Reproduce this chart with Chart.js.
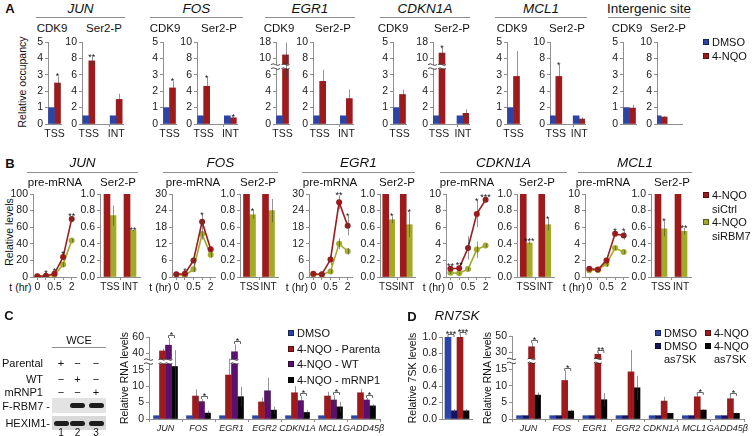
<!DOCTYPE html>
<html>
<head>
<meta charset="utf-8">
<title>RBM7 / 7SK figure</title>
<script src="https://cdn.jsdelivr.net/npm/chart.js"></script>
<style>
  html, body { margin: 0; padding: 0; background: #fff; }
  #fig { position: relative; width: 754px; height: 436px; overflow: hidden;
         font-family: "Liberation Sans", Arial, sans-serif; color: #111; }
  #fig canvas { position: absolute; }
  .t { position: absolute; white-space: nowrap; line-height: 1; }
  .ln { position: absolute; height: 1px; background: #8e8e8e; }
  .sq { position: absolute; width: 6px; height: 6px; box-sizing: border-box; border: 1px solid rgba(0,0,0,0.45); }
</style>
</head>
<body>
<div id="fig"></div>
<script>
// ---- A: ChIP, relative occupancy (DMSO vs 4-NQO) ----
const aGenes = ['JUN', 'FOS', 'EGR1', 'CDKN1A', 'MCL1', 'Intergenic site'];
const aSites = ['TSS', '', 'INT'];
const aCdk9Dmso = [1, 1, 1, 1, 1, 1];
const aCdk9Nqo = [2.5, 2.2, 11.7, 1.8, 2.9, 0.97];
const aCdk9Err = [0.4, 0.4, 6, 0.3, 1.55, 0.2];
const aCdk9Sig = ['*', '*', '', '', '', ''];
const aSer2Dmso = [[1, null, 1], [1, null, 1], [1, null, 1], [1, null, 1], [1, null, 1], [1, null, null]];
const aSer2Nqo = [[7.7, null, 3.0], [4.6, null, 0.75], [5.2, null, 3.1], [12.6, null, 1.3], [5.8, null, 0.6], [0.85, null, null]];
const aSer2Err = [[0.5, 0, 0.7], [1.0, 0, 0.1], [1.4, 0, 1.1], [2.5, 0, 0.5], [1.4, 0, 0.2], [0.1, 0, 0]];
const aSer2Sig = [['**', '', ''], ['*', '', '*'], ['', '', ''], ['*', '', ''], ['*', '', ''], ['', '', '']];
const aBreakTicks = ['0', '2', '4', '6', '10', '18'];

// ---- B: pre-mRNA time course and Ser2-P (siCtrl vs siRBM7) ----
const bGenes = ['JUN', 'FOS', 'EGR1', 'CDKN1A', 'MCL1'];
const bTimes = ['0', '0.25', '0.5', '1', '2'];
const bTimeTicks = ['0', '0.5', '2'];
const bMax = [100, 30, 30, 10, 10];
const bStep = [20, 6, 6, 2, 2];
const bCtrl = [[1, 1.5, 4, 24, 70], [1, 1.2, 6, 20, 10], [1.2, 1, 6.3, 27, 18.5], [1, 1.05, 3.5, 7.6, 9.3], [1, 0.9, 2, 5.2, 5]];
const bCtrlErr = [[0.5, 0.5, 1, 4, 3], [0.3, 0.3, 2, 2.5, 1], [0.5, 0.3, 2, 2.5, 3.5], [0.1, 0.15, 1.4, 1.6, 0.2], [0.1, 0.05, 0.2, 0.25, 0.5]];
const bCtrlSig = [['', '*', '*', '*', '**'], ['', '*', '', '*', ''], ['', '', '', '**', '*'], ['**', '**', '', '*', '***'], ['', '', '', '*', '*']];
const bRbm7 = [[0.5, 0.5, 2.5, 15, 44], [0.8, 0.6, 2.8, 15.5, 8], [0.8, 0.8, 2, 12, 9.3], [0.5, 0.45, 0.95, 3.3, 3.8], [0.8, 0.85, 1.6, 3.5, 3]];
const bRbm7Err = [[0.3, 0.3, 0.5, 3, 2], [0.3, 0.3, 1, 2, 1], [0.3, 0.3, 0.8, 2, 1.2], [0.15, 0.1, 0.2, 1, 0.2], [0.2, 0.1, 0.4, 0.2, 0.2]];
const bSites = ['TSS', 'INT'];
const bSer2Ctrl = [[1, 1], [1, 1], [1, 1], [1, 1], [1, 1]];
const bSer2Rbm7 = [[0.74, 0.56], [0.75, 0.80], [0.69, 0.63], [0.41, 0.63], [0.58, 0.55]];
const bSer2Err = [[0.12, 0.01], [0.05, 0.14], [0.04, 0.15], [0.02, 0.07], [0.09, 0.04]];
const bSer2Sig = [['', '**'], ['*', ''], ['*', '*'], ['***', '*'], ['*', '**']];

// ---- C: RBM7 rescue, relative RNA levels ----
const cGenes = ['JUN', 'FOS', 'EGR1', 'EGR2', 'CDKN1A', 'MCL1', 'GADD45β'];
const cDmso = [1, 1, 1, 1, 1, 1, 1];
const cParental = [43, 7, 13.4, 5.2, 8, 7, 8];
const cParentalErr = [2.5, 2, 5, 1.3, 2, 1.3, 1.2];
const cWt = [50, 5.3, 42, 8.6, 5.6, 5.8, 5.8];
const cWtErr = [9, 0.8, 9, 4, 1.5, 1.4, 0.6];
const cMrnp1 = [16, 1.8, 6.8, 2.7, 2, 3.7, 4];
const cMrnp1Err = [28, 0.8, 3, 1.1, 0.7, 1.5, 0.5];
const cSig = ['*', '*', '*', '', '*', '*', '*'];
const cTicks = ['0', '5', '10', '15', '40', '60'];
const blotRows = ['Parental', 'WT', 'mRNP1'];
const blotSigns = [['+', '−', '−'], ['−', '+', '−'], ['−', '−', '+']];
const blotLanes = ['1', '2', '3'];
const blotBands = [['F-RBM7 -', [0, 1, 1]], ['HEXIM1-', [1, 1, 1]]];

// ---- D: 7SK knock-down ----
const d7sk = [1.0, 0.1, 1.0, 0.1];
const d7skErr = [0, 0.02, 0.03, 0.02];
const dDmso = [1, 1, 1, 1, 1, 1, 1];
const dDmsoAs = [1, 1, 1, 1, 1, 1, 1];
const dNqo = [37, 11.6, 28, 14.2, 5.4, 6.7, 6.1];
const dNqoErr = [5, 3, 2, 19, 1.3, 0.6, 0.8];
const dNqoAs = [7.2, 2.4, 5.8, 9.4, 1.7, 2.7, 1.7];
const dNqoAsErr = [0.8, 0.4, 2, 3.6, 0.2, 0.2, 0.2];
const dSig = ['*', '*', '**', '', '', '*', '*'];
const dTicks = ['0', '5', '10', '15', '30', '50'];

const FF = '"Liberation Sans", Arial, sans-serif';
const GREY = '#8e8e8e';
const BLUE = '#2c44a3', RED = '#9d1a1d', OLIVE = '#a2aa2a', PURPLE = '#5a106e', NAVY = '#16135f', BLACK = '#050505';
const NONE = 'rgba(0,0,0,0)';
Chart.defaults.font.family = FF;

const fig = document.getElementById('fig');

function tx(s, x, y, o = {}) {
  const d = document.createElement('div');
  d.className = 't';
  d.textContent = s;
  d.style.fontSize = (o.size || 10.5) + 'px';
  if (o.it) d.style.fontStyle = 'italic';
  if (o.b) d.style.fontWeight = 'bold';
  const ax = o.al === 'l' ? '0' : o.al === 'r' ? '-100%' : '-50%';
  d.style.left = x + 'px';
  d.style.top = y + 'px';
  d.style.transform = 'translate(' + ax + ',-50%)' + (o.rot ? ' rotate(-90deg)' : '');
  (o.parent || fig).appendChild(d);
  return d;
}
function ln(x0, x1, y) {
  const d = document.createElement('div');
  d.className = 'ln';
  Object.assign(d.style, {left: x0 + 'px', top: y + 'px', width: (x1 - x0) + 'px'});
  fig.appendChild(d);
}
function sq(x, y, c, parent) {
  const d = document.createElement('div');
  d.className = 'sq';
  Object.assign(d.style, {left: x + 'px', top: (y - 3) + 'px', background: c});
  (parent || fig).appendChild(d);
}

function wave(ctx, a, b, y) {
  const m = (a + b) / 2;
  ctx.beginPath();
  ctx.moveTo(a, y);
  ctx.quadraticCurveTo((a + m) / 2, y - 1.6, m, y);
  ctx.quadraticCurveTo((m + b) / 2, y + 1.6, b, y);
  ctx.stroke();
}

// error bars, asterisks, brackets and axis breaks, all placed through the y scale
const cfg = new Map();
const marks = {
  id: 'marks',
  afterDatasetsDraw(chart) {
    const o = cfg.get(chart.canvas) || {};
    const ctx = chart.ctx, ys = chart.scales.y, ca = chart.chartArea;
    const tf = o.tf || (v => v);
    const isLine = chart.config.type === 'line';
    ctx.save();
    if (o.brk != null) {
      const yb = ys.getPixelForValue(o.brk);
      ctx.lineWidth = 0.9;
      ctx.strokeStyle = '#333';
      ctx.fillStyle = '#fff';
      const cut = (a, b) => { ctx.fillRect(a, yb - 2, b - a, 4); wave(ctx, a, b, yb - 2); wave(ctx, a, b, yb + 2); };
      cut(ca.left - 5, ca.left + 4);
      chart.data.datasets.forEach((ds, di) => chart.getDatasetMeta(di).data.forEach(el => {
        if (el.y < yb - 3) cut(el.x - el.width / 2 - 1, el.x + el.width / 2 + 1);
      }));
    }
    const tops = [];
    chart.data.datasets.forEach((ds, di) => {
      tops[di] = [];
      chart.getDatasetMeta(di).data.forEach((el, i) => {
        const v = ds.raw[i];
        if (v == null) return;
        const e = (ds.err && ds.err[i]) || 0;
        let top = isLine ? el.y - 3 : el.y;
        if (e > 0) {
          const y1 = ys.getPixelForValue(tf(v + e));
          const y2 = ys.getPixelForValue(tf(Math.max(0, v - e)));
          const x = Math.round(el.x) + 0.5;
          ctx.strokeStyle = 'rgba(60,60,60,0.55)';
          ctx.lineWidth = 1;
          ctx.beginPath();
          ctx.moveTo(x, y1);
          ctx.lineTo(x, y2);
          ctx.stroke();
          top = Math.min(top, y1);
        }
        tops[di][i] = top;
        const s = ds.sig && ds.sig[i];
        if (s) {
          ctx.fillStyle = '#111';
          ctx.font = '9px ' + FF;
          ctx.textAlign = 'center';
          ctx.textBaseline = 'alphabetic';
          ctx.fillText(s, el.x, top + 3);
        }
      });
    });
    (o.brackets || []).forEach(b => {
      const xa = chart.getDatasetMeta(b.a).data[b.i].x, xb = chart.getDatasetMeta(b.b).data[b.i].x;
      const y = Math.round(Math.min(tops[b.a][b.i], tops[b.b][b.i]) - 3) + 0.5;
      ctx.strokeStyle = '#444';
      ctx.lineWidth = 0.8;
      ctx.beginPath();
      ctx.moveTo(xa, y + 2.5);
      ctx.lineTo(xa, y);
      ctx.lineTo(xb, y);
      ctx.lineTo(xb, y + 2.5);
      ctx.stroke();
      ctx.fillStyle = '#111';
      ctx.font = '9px ' + FF;
      ctx.textAlign = 'center';
      ctx.textBaseline = 'alphabetic';
      ctx.fillText(b.t, (xa + xb) / 2, y + 2);
    });
    ctx.restore();
  }
};
Chart.register(marks);

// one small chart whose plot area is [x0,x1] x [y0,y1] on the page
function mk(x0, x1, y0, y1, type, labels, datasets, o) {
  const yw = 30, xh = 17, pt = 16, pr = 10;
  const L = Math.round(x0) - yw, T = Math.round(y0) - pt;
  const W = Math.round(x1) - Math.round(x0) + yw + pr;
  const H = Math.round(y1) - Math.round(y0) + pt + xh;
  const cv = document.createElement('canvas');
  cv.width = W;
  cv.height = H;
  Object.assign(cv.style, {left: L + 'px', top: T + 'px', width: W + 'px', height: H + 'px'});
  fig.appendChild(cv);
  cfg.set(cv, o);
  const yt = {stepSize: o.step, padding: 2, color: '#1a1a1a', font: {family: FF, size: o.ySize || 10.5}};
  if (o.ycb) yt.callback = o.ycb;
  const xt = {autoSkip: false, maxRotation: 0, minRotation: 0, padding: 1, color: '#1a1a1a',
              font: {family: FF, size: o.xSize || 10.5, style: o.xItalic ? 'italic' : 'normal'}};
  if (o.xcb) xt.callback = o.xcb;
  return new Chart(cv, {
    type: type,
    data: {labels: labels, datasets: datasets},
    options: {
      responsive: false, animation: false, events: [],
      layout: {padding: {top: pt, right: pr, left: 0, bottom: 0}},
      plugins: {legend: {display: false}, tooltip: {enabled: false}},
      scales: {
        x: {offset: true, ticks: xt,
            grid: {drawOnChartArea: false, drawTicks: true, tickLength: 3, color: o.xGrid || NONE, offset: type === 'bar'},
            border: {display: true, color: GREY, width: 1},
            afterFit: s => { s.height = xh; }},
        y: {min: 0, max: o.max, ticks: yt,
            grid: {drawOnChartArea: false, drawTicks: true, tickLength: 3, color: GREY},
            border: {display: true, color: GREY, width: 1},
            afterFit: s => { s.width = yw; }}
      }
    }
  });
}

const ident = v => v;
function bar(raw, color, err, sig, tf, thick) {
  return {raw: raw, data: raw.map(v => v == null ? null : (tf || ident)(v)), backgroundColor: color,
          err: err, sig: sig, barThickness: thick || 6, borderWidth: 0};
}
function line(raw, color, err, sig) {
  return {raw: raw, data: raw, borderColor: color, backgroundColor: color, pointBackgroundColor: color,
          pointRadius: 3, pointBorderWidth: 0, borderWidth: 1.6, tension: 0, err: err, sig: sig};
}

// ================= A =================
tx('A', 10, 8, {b: true, size: 13});
tx('Relative occupancy', 22, 82, {rot: true});
const aTitleX = [[36, 125], [150, 243], [265, 355], [380, 470], [495, 587], [608, 690]];
const aSubX = [[52, 104], [165, 219], [279, 333], [393, 452], [512, 567], [627, 668]];
const aCdk9X = [48, 163, 276, 393, 507, 623];
const aSer2X = [[82, 123], [197, 237], [313, 353], [433, 469], [550, 585], [657, 682]];
const brokenA = v => v <= 8 ? v : 8 + (v - 10) / 4;
aGenes.forEach((g, i) => {
  const last = i === aGenes.length - 1;
  ln(aTitleX[i][0], aTitleX[i][1], 17);
  tx(g, (aTitleX[i][0] + aTitleX[i][1]) / 2, 9, {size: 13.5, it: !last});
  tx('CDK9', aSubX[i][0], 29, {size: 11.5});
  tx('Ser2-P', aSubX[i][1], 29, {size: 11.5});
  const b1 = i === 2, tf1 = b1 ? brokenA : ident;
  mk(aCdk9X[i], aCdk9X[i] + 13, 42, 124, 'bar', [last ? '' : aSites[0]],
     [bar([aCdk9Dmso[i]], BLUE, null, null, tf1), bar([aCdk9Nqo[i]], RED, [aCdk9Err[i]], [aCdk9Sig[i]], tf1)],
     b1 ? {max: 10, step: 2, ycb: (v, k) => aBreakTicks[k], tf: tf1, brk: 7} : {max: 5, step: 1});
  const b2 = i === 3, tf2 = b2 ? brokenA : ident;
  mk(aSer2X[i][0], aSer2X[i][1], 42, 124, 'bar', last ? ['', '', ''] : aSites,
     [bar(aSer2Dmso[i], BLUE, null, null, tf2), bar(aSer2Nqo[i], RED, aSer2Err[i], aSer2Sig[i], tf2)],
     Object.assign({max: 10, step: 2, xGrid: last ? NONE : (c => c.index === 2 ? GREY : NONE)},
                   b2 ? {ycb: (v, k) => aBreakTicks[k], tf: tf2, brk: 7} : {}));
});
sq(703, 42, BLUE); tx('DMSO', 712, 42, {al: 'l', size: 11});
sq(703, 56, RED); tx('4-NQO', 712, 56, {al: 'l', size: 11});

// ================= B =================
tx('B', 10, 163, {b: true, size: 13});
tx('Relative levels', 9, 232, {rot: true});
const bTitleX = [[27, 138], [163, 278], [302, 415], [440, 567], [578, 692]];
const bSubX = [[55, 118], [193, 258], [330, 397], [467, 537], [603, 672]];
const bPreX = [[33, 76], [172, 215], [309, 352], [446, 490], [585, 628]];
const bSerX = [[100, 140], [240, 278], [380, 415], [517, 554], [651, 691]];
const bHrX = [31.5, 171.5, 308, 445, 585];
bGenes.forEach((g, i) => {
  ln(bTitleX[i][0], bTitleX[i][1], 172);
  tx(g, (bTitleX[i][0] + bTitleX[i][1]) / 2, 163, {size: 13.5, it: true});
  tx('pre-mRNA', bSubX[i][0], 183, {size: 11.5});
  tx('Ser2-P', bSubX[i][1], 183, {size: 11.5});
  tx('t (hr)', bHrX[i], 287, {al: 'r'});
  mk(bPreX[i][0], bPreX[i][1], 194, 277, 'line', bTimes,
     [line(bCtrl[i], RED, bCtrlErr[i], bCtrlSig[i]), line(bRbm7[i], OLIVE, bRbm7Err[i], null)],
     {max: bMax[i], step: bStep[i], xGrid: GREY, xcb: (v, k) => bTimeTicks.includes(bTimes[k]) ? bTimes[k] : ''});
  mk(bSerX[i][0], bSerX[i][1], 194, 277, 'bar', bSites,
     [bar(bSer2Ctrl[i], RED, null, null), bar(bSer2Rbm7[i], OLIVE, bSer2Err[i], bSer2Sig[i])],
     {max: 1, step: 0.2, ycb: v => v.toFixed(1), xSize: 10, xGrid: c => c.index === 1 ? GREY : NONE});
});
sq(703, 195, RED); tx('4-NQO', 712, 195, {al: 'l', size: 11}); tx('siCtrl', 712, 209, {al: 'l', size: 11});
sq(703, 222, OLIVE); tx('4-NQO', 712, 222, {al: 'l', size: 11}); tx('siRBM7', 712, 236, {al: 'l', size: 11});

// ================= C =================
tx('C', 9, 315, {b: true, size: 13});
tx('WCE', 79, 340, {size: 11});
ln(52, 106, 347);
const laneX = [61, 77.5, 96];
blotRows.forEach((r, k) => {
  const y = [363, 379, 392][k];
  tx(r, 43, y, {al: 'r', size: 11});
  blotSigns[k].forEach((s, j) => tx(s, laneX[j], y, {size: 11}));
});
blotBands.forEach(([name, on], k) => {
  const top = [398, 416][k], h = [15, 14][k];
  const box = document.createElement('div');
  Object.assign(box.style, {position: 'absolute', left: '52px', top: top + 'px', width: '54px', height: h + 'px',
                            background: k ? '#d9d9d9' : '#e3e3e3'});
  fig.appendChild(box);
  on.forEach((v, j) => {
    if (!v) return;
    const band = document.createElement('div');
    Object.assign(band.style, {position: 'absolute', left: (laneX[j] - 7.5) + 'px', top: (top + h / 2 - 2.5) + 'px',
                               width: '15px', height: '5px', borderRadius: '3px', background: '#1d1d1d', filter: 'blur(0.7px)'});
    fig.appendChild(band);
  });
  tx(name, 50, top + h / 2, {al: 'r', size: 11});
});
blotLanes.forEach((n, j) => tx(n, laneX[j], 433, {size: 10}));

tx('Relative RNA levels', 124, 378, {rot: true});
const brokenC = v => v <= 25 ? v : 20 + (v - 40) / 4;
mk(149, 380, 337, 419, 'bar', cGenes,
   [bar(cDmso, BLUE, null, null, brokenC), bar(cParental, RED, cParentalErr, null, brokenC),
    bar(cWt, PURPLE, cWtErr, null, brokenC), bar(cMrnp1, BLACK, cMrnp1Err, null, brokenC)],
   {max: 25, step: 5, ycb: (v, k) => cTicks[k], tf: brokenC, brk: 17.5, xGrid: GREY, xItalic: true, xSize: 9,
    brackets: cSig.map((t, i) => t ? {i: i, a: 2, b: 3, t: t} : null).filter(Boolean)});
const cLeg = document.createElement('div');
Object.assign(cLeg.style, {position: 'absolute', left: '280px', top: '320px', width: '101px', height: '70px', overflow: 'hidden'});
fig.appendChild(cLeg);
[['DMSO', BLUE], ['4-NQO - Parental', RED], ['4-NQO - WT', PURPLE], ['4-NQO - mRNP1', BLACK]].forEach(([s, c], k) => {
  const y = [13, 29, 44, 60][k];
  sq(8, y, c, cLeg);
  tx(s, 17, y, {al: 'l', size: 11, parent: cLeg});
});

// ================= D =================
tx('D', 412, 316, {b: true, size: 13});
tx('RN7SK', 457, 316, {size: 13.5, it: true});
tx('Relative 7SK levels', 412, 378, {rot: true});
mk(442, 472, 337, 419, 'bar', [''],
   [bar([d7sk[0]], BLUE, [d7skErr[0]]), bar([d7sk[1]], NAVY, [d7skErr[1]]),
    bar([d7sk[2]], RED, [d7skErr[2]]), bar([d7sk[3]], BLACK, [d7skErr[3]])],
   {max: 1, step: 0.2, ycb: v => v.toFixed(1), brackets: [{i: 0, a: 0, b: 1, t: '***'}, {i: 0, a: 2, b: 3, t: '***'}]});
tx('Relative RNA levels', 487, 378, {rot: true});
const brokenD = v => v <= 22 ? v : 20 + (v - 30) / 4;
mk(512, 744, 336, 419, 'bar', cGenes,
   [bar(dDmso, BLUE, null, null, brokenD), bar(dDmsoAs, NAVY, null, null, brokenD),
    bar(dNqo, RED, dNqoErr, null, brokenD), bar(dNqoAs, BLACK, dNqoAsErr, null, brokenD)],
   {max: 25, step: 5, ycb: (v, k) => dTicks[k], tf: brokenD, brk: 17.5, xGrid: GREY, xItalic: true, xSize: 9,
    brackets: dSig.map((t, i) => t ? {i: i, a: 2, b: 3, t: t} : null).filter(Boolean)});
sq(655, 333, BLUE); tx('DMSO', 664, 333, {al: 'l', size: 11});
sq(705, 333, RED); tx('4-NQO', 714, 333, {al: 'l', size: 11});
sq(655, 346, NAVY); tx('DMSO', 664, 346, {al: 'l', size: 11});
sq(705, 346, BLACK); tx('4-NQO', 714, 346, {al: 'l', size: 11});
tx('as7SK', 664, 359, {al: 'l', size: 11});
tx('as7SK', 714, 359, {al: 'l', size: 11});
</script>
</body>
</html>
